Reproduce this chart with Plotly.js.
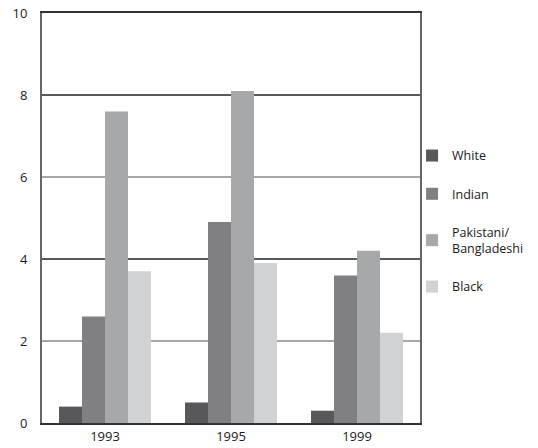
<!DOCTYPE html>
<html>
<head>
<meta charset="utf-8">
<script src="https://cdn.plot.ly/plotly-3.0.1.min.js"></script>
<style>html,body{margin:0;padding:0;background:#fff;}#chart{width:538px;height:448px;}</style>
</head>
<body>
<div id="chart"></div>
<script>
const years = ['1993', '1995', '1999'];
const seriesNames = ['White', 'Indian', 'Pakistani/<br>Bangladeshi', 'Black'];
const white = [0.4, 0.5, 0.3];
const indian = [2.6, 4.9, 3.6];
const pakistaniBangladeshi = [7.6, 8.1, 4.2];
const black = [3.7, 3.9, 2.2];
const yTicks = [0, 2, 4, 6, 8, 10];
const lightGrid = [2, 6];
const darkGrid = [4, 8];

const colors = ['#58585a', '#808082', '#a7a8aa', '#d1d2d4'];
const values = [white, indian, pakistaniBangladeshi, black];

const traces = values.map((v, i) => ({
  type: 'bar',
  x: years,
  y: v,
  name: seriesNames[i],
  legendgroup: 'g' + i,
  marker: {color: colors[i], line: {width: 0}},
  hoverinfo: 'skip'
}));

const font = {family: '"Open Sans", "Noto Sans", sans-serif', size: 13, color: '#1a1a1a'};

const gridLine = (v, color) => ({
  type: 'line', xref: 'paper', x0: 0, x1: 1, yref: 'y', y0: v, y1: v,
  layer: 'below', line: {color: color, width: 1.5}
});
const gridShapes = lightGrid.map(v => gridLine(v, '#8a8a8a'))
  .concat(darkGrid.map(v => gridLine(v, '#222')));

const layout = {
  width: 538,
  height: 448,
  margin: {l: 42, r: 118, t: 13, b: 25, pad: 0, autoexpand: false},
  paper_bgcolor: '#fff',
  plot_bgcolor: '#fff',
  font: font,
  barmode: 'group',
  bargap: 0.27,
  bargroupgap: 0,
  showlegend: true,
  legend: {
    x: 0.979, xanchor: 'left', y: 0.688, yanchor: 'top',
    font: {family: font.family, size: 12.5, color: '#1a1a1a'},
    traceorder: 'grouped',
    tracegroupgap: 19,
    bgcolor: 'rgba(0,0,0,0)'
  },
  shapes: gridShapes,
  xaxis: {
    type: 'category',
    range: [-0.5, 2.5],
    showline: true, linecolor: '#333', linewidth: 2, mirror: true,
    showgrid: false, ticks: '', ticklen: 0,
    tickfont: font, fixedrange: true
  },
  yaxis: {
    range: [0, 10],
    tickvals: yTicks,
    showline: true, linecolor: '#666', linewidth: 2, mirror: true,
    showgrid: false,
    zeroline: false, ticks: '', ticklabelstandoff: 10,
    tickfont: font, fixedrange: true
  }
};

Plotly.newPlot('chart', traces, layout, {displayModeBar: false, staticPlot: true});
</script>
</body>
</html>
